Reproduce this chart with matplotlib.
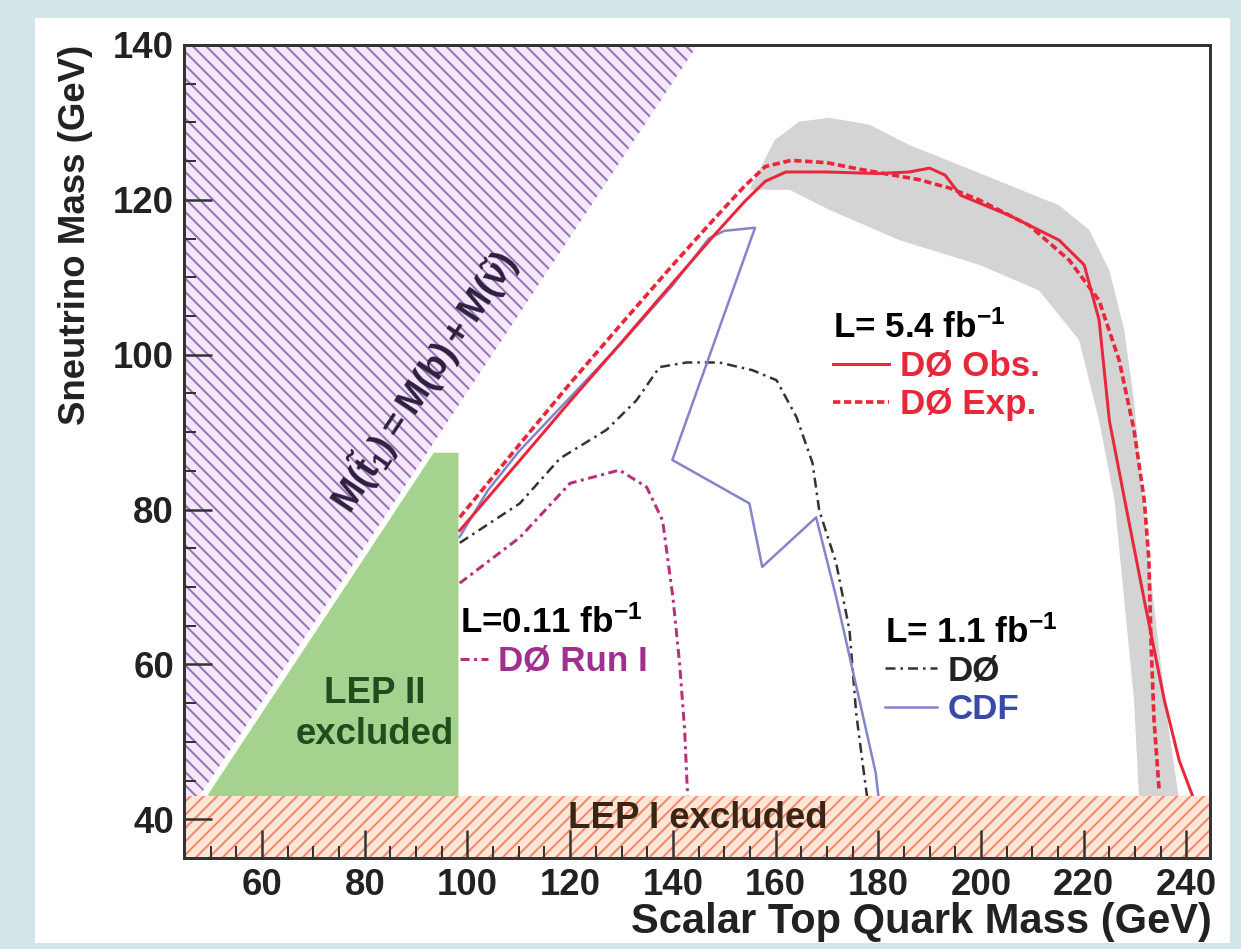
import numpy as np
import matplotlib
matplotlib.use("Agg")
import matplotlib.pyplot as plt
from matplotlib.patches import Rectangle, Polygon
from matplotlib.ticker import MultipleLocator

plt.rcParams['font.family'] = ['Liberation Sans', 'DejaVu Sans']
plt.rcParams['font.weight'] = 'bold'
plt.rcParams['mathtext.fontset'] = 'custom'
plt.rcParams['mathtext.rm'] = 'Liberation Sans:bold'
plt.rcParams['mathtext.it'] = 'Liberation Sans:bold:italic'
plt.rcParams['mathtext.bf'] = 'Liberation Sans:bold'
plt.rcParams['mathtext.default'] = 'rm'
plt.rcParams['hatch.linewidth'] = 1.2

# b-quark mass used for the kinematic boundary
M_B = 4.8

# D0 5.4 fb-1 observed / expected limits
obs_x = [98.5, 110, 120, 130, 140, 148, 154, 158, 162, 170, 180, 186, 190, 193, 196,
         205.5, 215.2, 220.1, 223, 225, 228, 231.8, 235.7, 238.6, 241.5]
obs_y = [77.3, 86.2, 94.0, 101.6, 109.3, 115.4, 119.8, 122.4, 123.6, 123.6, 123.4, 123.6, 124.1, 123.2, 120.6,
         118.0, 114.8, 111.6, 104.5, 91.5, 81.2, 68.3, 55.4, 47.6, 42.5]
exp_x = [98.5, 110, 120, 130, 140, 148, 154, 158, 163, 170, 176, 182, 188, 194, 199.6,
         209.4, 217.2, 223, 226.9, 229.8, 231.8, 232.7, 233.1, 233.7, 234.7]
exp_y = [79.0, 88.3, 96.3, 104.0, 111.6, 117.5, 121.8, 124.3, 125.1, 124.8, 124.0, 123.3, 122.6, 121.5, 120.0,
         116.7, 112.2, 107.0, 99.3, 90.3, 81.2, 73.5, 63.1, 52.8, 43.7]

# +-1 sigma band around the expected limit (outer edge, then inner edge back)
band_x = [154.9, 159.8, 164.6, 170.5, 178.3, 186.0, 195.8, 205.5, 215.2, 221.1, 225.0, 227.9,
          229.8, 231.2, 232.7, 234.7, 236.6, 238.6, 230.8, 229.8, 227.9, 226.0, 223.0, 219.1,
          211.3, 199.7, 184.1, 170.5, 162.7]
band_y = [121.3, 127.7, 130.1, 130.6, 129.7, 127.1, 124.5, 121.9, 119.3, 116.1, 110.9, 103.2,
          94.1, 83.8, 73.5, 61.8, 51.5, 42.5, 42.5, 55.4, 68.3, 81.2, 91.5, 101.9,
          108.3, 111.6, 114.8, 118.7, 121.3]

# D0 1.1 fb-1
d0_x = [98.5, 110.2, 118, 127.1, 132.9, 137.4, 142.7, 149, 155.5, 160.2, 164.1, 167.2,
        168.5, 171.8, 174.4, 175.7, 177, 178]
d0_y = [75.7, 80.8, 86.6, 90.3, 94.1, 98.4, 99.0, 99.0, 98.0, 96.7, 91.9, 86.0,
        79.9, 73.1, 64.4, 53.7, 47.0, 42.0]

# CDF 1.1 fb-1
cdf_x = [98.5, 104, 110, 120, 130, 140, 147, 150, 156, 139.9, 154.9, 157.4, 167.9, 171.8,
         176.9, 179.5, 180.2]
cdf_y = [76.5, 82.5, 87.5, 94.5, 101.5, 109.0, 115.0, 116.0, 116.4, 86.4, 80.8, 72.6, 79.0, 68.7,
         53.7, 46.0, 42.0]

# D0 Run I, 0.11 fb-1
run1_x = [98.5, 110.2, 120, 129.6, 134.9, 138, 140, 141.3, 142.3, 142.9]
run1_y = [70.5, 76.4, 83.4, 85.1, 82.9, 78.6, 68.7, 60.2, 51.5, 42.5]

# LEP II excluded region
lep2_x = [49.0, 93.3, 98.5, 98.5]
lep2_y = [43.0, 87.5, 87.5, 35.0]

# LEP I limit
LEP1_MAX = 43.0

RED = '#e8283a'
fig = plt.figure(figsize=(1241 / 120, 949 / 120), dpi=120, facecolor='#d3e5e8')
fig.patches.append(Rectangle((35 / 1241, 6 / 949), 1195 / 1241, 925 / 949,
                             transform=fig.transFigure, facecolor='white',
                             edgecolor='none', zorder=-5))

ax = fig.add_axes([184 / 1241, 91 / 949, 1026 / 1241, 813 / 949])
ax.set_zorder(1)
ax.set_xlim(44.8, 244.6)
ax.set_ylim(35, 140)

# kinematically forbidden region
kin_x = np.array([30.0, 160.0])
ax.fill_between(kin_x, kin_x - M_B, 150, facecolor='#f5e6f9', edgecolor='#9276b6',
                hatch='\\\\\\', linewidth=0, zorder=1)

ax.add_patch(Polygon(np.column_stack([lep2_x, lep2_y]), closed=True,
                     facecolor='#a6d28f', edgecolor='white', linewidth=1.5, zorder=1.1))

ax.fill(band_x, band_y, color='#d4d4d4', linewidth=0, zorder=1.2)

l_run1, = ax.plot(run1_x, run1_y, color='#b8307a', lw=1.8, ls=(0, (3, 1.5, 1, 1.5)), zorder=2)
l_d0, = ax.plot(d0_x, d0_y, color='#333333', lw=1.5, ls=(0, (4, 2, 1, 2)), zorder=2)
l_cdf, = ax.plot(cdf_x, cdf_y, color='#8484cc', lw=1.5, zorder=2)
l_obs, = ax.plot(obs_x, obs_y, color=RED, lw=1.8, zorder=2.1)
l_exp, = ax.plot(exp_x, exp_y, color=RED, lw=2.2, ls=(0, (2, 1)), zorder=2.1)

ax.axhspan(35, LEP1_MAX, facecolor='#fde6d8', edgecolor='#f08a68', hatch='///',
           linewidth=0, zorder=2.2)

ax.text(82, 53.6, 'LEP II\nexcluded', ha='center', va='center', size=22,
        color='#1e4d1e', linespacing=1.25, zorder=3)
ax.text(144.8, 40.1, 'LEP I excluded', ha='center', va='center', size=22,
        color='#3a2515', zorder=3)
ax.text(91.5, 96.5, r'$M(\tilde{t}_1) = M(b) + M(\tilde{\nu})$', rotation=45,
        transform_rotates_text=True, rotation_mode='anchor', ha='center', va='center',
        size=22, color='#2d1f40', zorder=3)

legend_kw = dict(loc='upper left', frameon=False, alignment='left',
                 prop=dict(weight='bold', size=21),
                 title_fontproperties=dict(weight='bold', size=21),
                 handletextpad=0.3, labelspacing=0.15, borderpad=0, borderaxespad=0)

leg1 = ax.legend([l_obs, l_exp], ['DØ Obs.', 'DØ Exp.'], title='L= 5.4 fb$^{-1}$',
                 bbox_to_anchor=(0.633, 0.674), handlelength=1.6,
                 labelcolor=[RED, RED], **legend_kw)
ax.add_artist(leg1)
leg2 = ax.legend([l_run1], ['DØ Run I'], title='L=0.11 fb$^{-1}$',
                 bbox_to_anchor=(0.269, 0.311), handlelength=0.8,
                 labelcolor=['#a03090'], **legend_kw)
ax.add_artist(leg2)
leg3 = ax.legend([l_d0, l_cdf], ['DØ', 'CDF'], title='L= 1.1 fb$^{-1}$',
                 bbox_to_anchor=(0.683, 0.299), handlelength=1.5,
                 labelcolor=['#222222', '#3a4aa8'], **legend_kw)

ax.set_xticks(np.arange(60, 241, 20))
ax.set_yticks(np.arange(40, 141, 20))
ax.xaxis.set_minor_locator(MultipleLocator(5))
ax.yaxis.set_minor_locator(MultipleLocator(5))
ax.tick_params(which='major', direction='in', length=17, width=1.5, labelsize=22,
               pad=6, colors='#333333', labelcolor='#222222')
ax.tick_params(which='minor', direction='in', length=7, width=1.2, colors='#333333')
for s in ax.spines.values():
    s.set_linewidth(1.8)
    s.set_color('#333333')
ax.set_axisbelow(False)

fig.text(1212 / 1241, 27 / 949, 'Scalar Top Quark Mass (GeV)', ha='right', va='center',
         size=25, color='#222222')
fig.text(76 / 1241, 1 - 45 / 949, 'Sneutrino Mass (GeV)', rotation=90, ha='center',
         va='top', size=22, color='#222222')

fig.savefig('out.png', dpi=120, facecolor=fig.get_facecolor())
